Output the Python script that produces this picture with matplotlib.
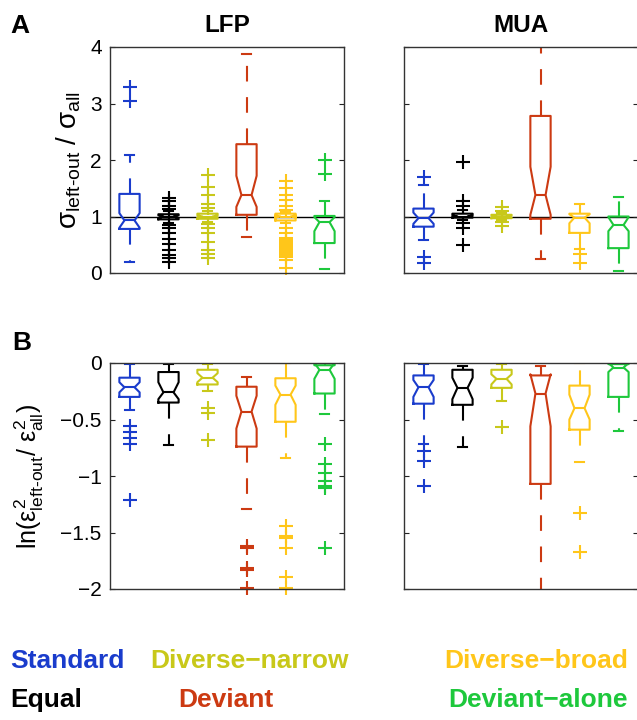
import matplotlib.pyplot as plt

plt.rcParams['font.family'] = ['Liberation Sans', 'DejaVu Sans']
plt.rcParams['mathtext.fontset'] = 'custom'
plt.rcParams['mathtext.rm'] = 'Liberation Sans'
plt.rcParams['mathtext.it'] = 'Liberation Sans'
plt.rcParams['mathtext.bf'] = 'Liberation Sans:bold'

groups = ['Standard', 'Equal', 'Diverse\u2212narrow', 'Deviant', 'Diverse\u2212broad', 'Deviant\u2212alone']
colors = ['#1a3ccc', '#000000', '#c8c81a', '#cc3a12', '#ffc61a', '#1ec83c']

# each box: (whislo, q1, cilo, med, cihi, q3, whishi)
lfp_sd_box = [
    (0.20, 0.78, 0.80, 0.93, 1.06, 1.40, 2.09),
    (0.88, 0.95, 0.97, 1.00, 1.02, 1.04, 1.10),
    (0.90, 0.96, 0.98, 1.00, 1.02, 1.05, 1.10),
    (0.64, 1.03, 1.17, 1.38, 1.72, 2.28, 3.87),
    (0.88, 0.93, 1.02, 1.00, 0.98, 1.05, 1.08),
    (0.07, 0.53, 0.74, 0.90, 0.99, 1.01, 1.28),
]
lfp_sd_fliers = [
    [3.30, 3.04],
    [1.32, 1.27, 1.19, 1.14, 0.85, 0.80, 0.70, 0.60, 0.51, 0.41, 0.32, 0.26, 0.20],
    [1.73, 1.53, 1.38, 1.22, 1.15, 0.86, 0.79, 0.70, 0.54, 0.41, 0.33, 0.26],
    [],
    [1.62, 1.50, 1.38, 1.29, 1.19, 1.12, 0.80, 0.71, 0.62, 0.58, 0.55, 0.52, 0.49,
     0.46, 0.43, 0.40, 0.37, 0.34, 0.31, 0.28, 0.23, 0.08],
    [2.00, 1.76],
]
mua_sd_box = [
    (0.58, 0.82, 0.87, 0.97, 1.07, 1.14, 1.55),
    (0.93, 0.98, 0.99, 1.00, 1.02, 1.05, 1.12),
    (0.94, 0.97, 0.98, 1.00, 1.02, 1.03, 1.06),
    (0.25, 0.96, 1.03, 1.38, 1.88, 2.78, 4.30),
    (0.42, 0.71, 0.88, 0.98, 1.04, 1.05, 1.23),
    (0.04, 0.44, 0.74, 0.85, 0.99, 1.00, 1.35),
]
mua_sd_fliers = [
    [1.70, 0.28, 0.18],
    [1.97, 1.27, 1.18, 0.88, 0.80, 0.50],
    [1.17, 1.10, 0.90, 0.83],
    [],
    [0.33, 0.17],
    [],
]

# B: log error ratio
lfp_err_box = [
    (-0.42, -0.30, -0.26, -0.215, -0.17, -0.13, -0.01),
    (-0.73, -0.35, -0.32, -0.26, -0.17, -0.08, -0.01),
    (-0.25, -0.19, -0.17, -0.13, -0.09, -0.06, -0.01),
    (-1.29, -0.74, -0.58, -0.43, -0.29, -0.21, -0.12),
    (-0.84, -0.52, -0.37, -0.28, -0.20, -0.135, 0.0),
    (-0.45, -0.27, -0.14, -0.06, 0.00, -0.02, 0.0),
]
lfp_err_fliers = [
    [-0.56, -0.61, -0.66, -0.72, -1.21],
    [],
    [-0.40, -0.44, -0.68],
    [-1.62, -1.64, -1.81, -1.83, -1.99],
    [-1.44, -1.53, -1.55, -1.64, -1.89, -1.99],
    [-0.72, -0.89, -0.97, -1.04, -1.09, -1.11, -1.64],
]
mua_err_box = [
    (-0.72, -0.36, -0.30, -0.215, -0.15, -0.11, -0.01),
    (-0.74, -0.37, -0.32, -0.22, -0.13, -0.06, -0.03),
    (-0.34, -0.22, -0.19, -0.14, -0.10, -0.06, -0.01),
    (-2.30, -1.07, -0.56, -0.27, -0.10, -0.11, -0.03),
    (-0.88, -0.59, -0.50, -0.40, -0.28, -0.20, 0.0),
    (-0.60, -0.30, -0.08, -0.04, 0.00, -0.01, 0.0),
]
mua_err_fliers = [
    [-0.78, -0.87, -1.09],
    [],
    [-0.57],
    [],
    [-1.33, -1.67],
    [],
]

keys = ['whislo', 'q1', 'cilo', 'med', 'cihi', 'q3', 'whishi']


def draw_panel(ax, boxes, fliers):
    for i, (b, fl, c) in enumerate(zip(boxes, fliers, colors)):
        st = dict(zip(keys, b))
        st['fliers'] = fl
        art = ax.bxp([st], positions=[i + 1], widths=0.52, capwidths=0.25,
                     shownotches=True, manage_ticks=False,
                     boxprops=dict(color=c, lw=1.5),
                     medianprops=dict(color=c, lw=1.5),
                     whiskerprops=dict(color=c, lw=1.5, ls=(0, (7.5, 7.5))),
                     capprops=dict(color=c, lw=1.5),
                     flierprops=dict(marker='+', markeredgecolor=c, markersize=10,
                                     markeredgewidth=1.5, ls='none'))
        for f in art['fliers']:
            f.set_clip_on(False)
    ax.set_xlim(0.5, 6.5)
    ax.set_xticks([])
    ax.tick_params(axis='y', direction='in', right=True, length=3.5, pad=6,
                   width=0.8, labelsize=15, colors='#222222', labelcolor='k')
    for s in ax.spines.values():
        s.set_color('#333333')
        s.set_linewidth(1.0)


fig = plt.figure(figsize=(6.37, 7.2), dpi=100)
W, H = 637, 720
aw, ah = 234 / W, 226 / H
ax_a1 = fig.add_axes([110 / W, (H - 273) / H, aw, ah])
ax_a2 = fig.add_axes([404 / W, (H - 273) / H, aw, ah])
ax_b1 = fig.add_axes([110 / W, (H - 589) / H, aw, ah])
ax_b2 = fig.add_axes([404 / W, (H - 589) / H, aw, ah])

for ax, bx, fl in [(ax_a1, lfp_sd_box, lfp_sd_fliers), (ax_a2, mua_sd_box, mua_sd_fliers)]:
    ax.axhline(1, color='k', lw=1, zorder=1)
    draw_panel(ax, bx, fl)
    ax.set_ylim(0, 4)
    ax.set_yticks([0, 1, 2, 3, 4])

for ax, bx, fl in [(ax_b1, lfp_err_box, lfp_err_fliers), (ax_b2, mua_err_box, mua_err_fliers)]:
    draw_panel(ax, bx, fl)
    ax.set_ylim(-2, 0)
    ax.set_yticks([-2, -1.5, -1, -0.5, 0])
    ax.set_yticklabels(['\u22122', '\u22121.5', '\u22121', '\u22120.5', '0'])

ax_a2.set_yticklabels([])
ax_b2.set_yticklabels([])

ax_a1.set_title('LFP', fontsize=17.5, fontweight='bold', pad=11)
ax_a2.set_title('MUA', fontsize=17.5, fontweight='bold', pad=11)

ax_a1.set_ylabel(r'$\sigma_{\text{left-out}}\ /\ \sigma_{\text{all}}$', fontsize=20)
ax_a1.yaxis.set_label_coords(-0.115, 0.5)
ax_b1.set_ylabel(r'$\mathrm{ln(}\varepsilon^{2}_{\text{left-out}}/\ \varepsilon^{2}_{\text{all}}\mathrm{)}$',
                 fontsize=18)
ax_b1.yaxis.set_label_coords(-0.275, 0.5)

fig.text(10 / W, (H - 33) / H, 'A', fontsize=19, fontweight='bold', va='baseline')
fig.text(12 / W, (H - 350) / H, 'B', fontsize=19, fontweight='bold', va='baseline')

# group labels under the panels
label_x = [10, 10, 150, 178, 628, 628]
label_ha = ['left', 'left', 'left', 'left', 'right', 'right']
label_y = [668, 707, 668, 707, 668, 707]
for g, c, x, y, ha in zip(groups, colors, label_x, label_y, label_ha):
    fig.text(x / W, (H - y) / H, g, color=c, fontsize=19, fontweight='bold',
             ha=ha, va='baseline')

fig.savefig('out.png', dpi=100)
